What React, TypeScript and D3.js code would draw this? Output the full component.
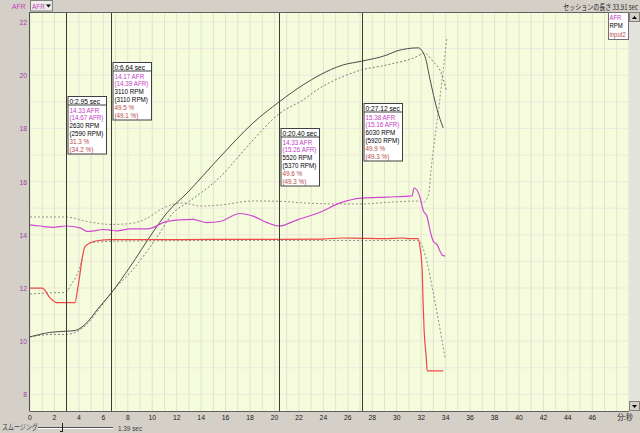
import React from "react";
import * as d3 from "d3";

type Pt = [number, number];

// run (solid) and comparison (dashed) series, time in seconds
const afrRun: Pt[] = [
  [0, 14.37], [0.82, 14.33], [1.88, 14.28], [2.95, 14.33], [4.09, 14.26], [4.66, 14.13],
  [5.07, 14.14], [5.97, 14.2], [6.64, 14.17], [7.12, 14.15], [8.18, 14.22], [9.57, 14.22],
  [10.07, 14.27], [10.88, 14.46], [12.27, 14.56], [13.34, 14.58], [14.48, 14.46], [15.55, 14.5],
  [17.18, 14.8], [18.25, 14.7], [19.39, 14.46], [20.4, 14.33], [21.85, 14.56], [23.73, 14.85],
  [25.37, 15.2], [27.12, 15.38], [29.21, 15.42], [31.26, 15.46], [31.42, 15.76], [31.91, 15.4],
  [32.16, 14.93], [32.49, 14.67], [32.73, 14.15], [32.98, 13.77], [33.31, 13.62], [33.72, 13.24],
  [33.96, 13.2],
];
const afrComp: Pt[] = [
  [0, 14.67], [1.9, 14.67], [2.95, 14.67], [4.66, 14.5], [6.64, 14.39], [8.18, 14.42],
  [9.57, 14.62], [10.88, 15.0], [12.52, 15.2], [13.91, 15.08], [15.55, 15.12], [18.25, 15.27],
  [20.4, 15.26], [22.34, 15.2], [25.12, 15.16], [27.12, 15.16], [29.2, 15.22], [31.67, 15.27],
  [32.16, 15.22], [32.6, 15.5], [32.81, 16.44], [33.5, 19.0], [34.1, 21.4],
];
const rpmRun: Pt[] = [
  [0, 2560], [0.8, 2590], [1.6, 2615], [2.95, 2630], [3.7, 2640], [4.66, 2740], [5.48, 2898],
  [6.64, 3110], [8.18, 3440], [10.07, 3880], [11.2, 4120], [12.85, 4371], [15.55, 4825],
  [18.25, 5253], [20.4, 5520], [22.34, 5732], [23.73, 5858], [25.61, 5983], [27.12, 6030],
  [29.21, 6109], [30.03, 6160], [31.75, 6198], [32.32, 6084], [32.73, 5795], [33.31, 5417],
  [33.8, 5190],
];
const rpmComp: Pt[] = [
  [0, 2560], [1.9, 2590], [2.95, 2590], [4.1, 2650], [4.9, 2760], [5.6, 2900], [6.64, 3110],
  [8.6, 3440], [10.5, 3840], [11.7, 4120], [12.85, 4245], [15.55, 4573], [18.25, 5039],
  [20.4, 5370], [22.34, 5543], [23.73, 5694], [25.5, 5830], [27.12, 5920], [29.2, 5983],
  [31.9, 6109], [32.2, 6135], [33.0, 6021], [33.6, 5895], [34.05, 5669],
];
const input2Run: Pt[] = [
  [0, 35.5], [1.0, 35.5], [1.64, 32.7], [2.2, 31.3], [2.95, 31.3], [3.68, 31.3], [3.93, 36],
  [4.5, 47.5], [5.48, 49.2], [6.64, 49.5], [10, 49.5], [15, 49.6], [20.4, 49.6], [24, 49.7],
  [25.5, 50.0], [27.12, 49.9], [29, 49.8], [30.5, 50.0], [31.0, 49.8], [31.75, 49.8],
  [31.9, 47.4], [32.08, 40.8], [32.16, 31], [32.24, 23.4], [32.41, 15.6], [32.49, 11.6],
  [33.8, 11.6],
];
const input2Comp: Pt[] = [
  [0, 33.8], [2.7, 34.2], [2.95, 34.2], [3.27, 36], [4.09, 41.6], [4.5, 47.4], [4.9, 48.6],
  [6.3, 49.0], [6.64, 49.1], [20.4, 49.3], [27.12, 49.3], [31.75, 49.3], [32.49, 42.8],
  [32.9, 35.8], [33.3, 28.3], [33.7, 20.5], [33.96, 15.3],
];

// cursor readouts
const cursorTimes = [2.95, 6.64, 20.4, 27.12];
const cursorAfr = [14.33, 14.17, 14.33, 15.38];
const cursorAfrComp = [14.67, 14.39, 15.26, 15.16];
const cursorRpm = [2630, 3110, 5520, 6030];
const cursorRpmComp = [2590, 3110, 5370, 5920];
const cursorPct = [31.3, 49.5, 49.6, 49.9];
const cursorPctComp = [34.2, 49.1, 49.3, 49.3];
const cursorBoxAnchor = [19.22, 20.5, 18.0, 18.95];

const yTicks = [8, 10, 12, 14, 16, 18, 20, 22];
const xTicks = d3.range(0, 47, 2);
const legendItems = ["AFR", "RPM", "input2"];

const FONT = "'Liberation Sans', Arial, sans-serif";
const JP = "'Noto Sans CJK JP', sans-serif";
const MAG = "#c43cc4";
const PCT = "#b84848";
const CHROME = "#d4d0c8";

const x = d3.scaleLinear().domain([0, 49]).range([30, 629]);
const y = d3.scaleLinear().domain([8, 22]).range([394.4, 22]);
const rpmY = d3.scaleLinear().domain([1500, 6500]).range([y(7.0), y(21.93)]);
const pctY = d3.scaleLinear().domain([0, 100]).range([y(7.38), y(20.38)]);

const L = 29.5, R = 629, T = 12, B = 411;

const T_ = ({ x, y, s = 1, size = 7, fill = "#000", anchor = "start", family = FONT, children }: any) => (
  <text transform={`translate(${x},${y}) scale(${s},1)`} fontSize={size} fill={fill}
    textAnchor={anchor} fontFamily={family}>{children}</text>
);

function mk(scale: d3.ScaleLinear<number, number>) {
  return d3.line<Pt>().x((d) => x(d[0])).y((d) => scale(d[1])).curve(d3.curveMonotoneX);
}

export default function App() {
  const afrLine = mk(y);
  const rpmLine = mk(rpmY);
  const pctLine = mk(pctY);

  const gridX = d3.range(0, 50, 1);
  const gridY = d3.range(8, 23, 1);

  return (
    <svg width={640} height={433} style={{ position: "absolute", left: 0, top: 0 }}>
      <rect x={0} y={0} width={640} height={433} fill={CHROME} />
      <defs>
        <clipPath id="plot"><rect x={L} y={T} width={R - L} height={B - T} /></clipPath>
      </defs>
      <rect x={L} y={T} width={R - L} height={B - T} fill="#f4fcdc" />

      {/* grid */}
      <g clipPath="url(#plot)">
        {gridX.map((t) => (
          <line key={"gx" + t} x1={x(t)} x2={x(t)} y1={T} y2={B} stroke="#e4e0d0" strokeWidth={1} />
        ))}
        {gridY.map((v) => (
          <line key={"gy" + v} x1={L} x2={R} y1={y(v)} y2={y(v)} stroke="#efe6dc" strokeWidth={1} />
        ))}
      </g>

      {/* series */}
      <g clipPath="url(#plot)" fill="none">
        <path d={afrLine(afrComp) || ""} stroke="#a08c8c" strokeWidth={1} strokeDasharray="2,2" />
        <path d={rpmLine(rpmComp) || ""} stroke="#7c7c7c" strokeWidth={1} strokeDasharray="2,2" />
        <path d={pctLine(input2Comp) || ""} stroke="#8c8c8c" strokeWidth={1} strokeDasharray="2,2" />
        <path d={rpmLine(rpmRun) || ""} stroke="#4c4c4c" strokeWidth={1} />
        <path d={pctLine(input2Run) || ""} stroke="#f04848" strokeWidth={1.2} />
        <path d={afrLine(afrRun) || ""} stroke="#d048d0" strokeWidth={1.2} />
      </g>

      {/* cursors */}
      {cursorTimes.map((t, i) => {
        const cx = Math.round(x(t)) + 0.5;
        const bx = cx + 1.5;
        const by = Math.round(y(cursorBoxAnchor[i])) + 0.5;
        const rows = [
          { s: `${cursorAfr[i].toFixed(2)} AFR`, c: MAG },
          { s: `(${cursorAfrComp[i].toFixed(2)} AFR)`, c: MAG },
          { s: `${cursorRpm[i]} RPM`, c: "#000" },
          { s: `(${cursorRpmComp[i]} RPM)`, c: "#000" },
          { s: `${cursorPct[i].toFixed(1)} %`, c: PCT },
          { s: `(${cursorPctComp[i].toFixed(1)} %)`, c: PCT },
        ];
        return (
          <g key={"c" + i}>
            <line x1={cx} x2={cx} y1={T} y2={B} stroke="#3c3c3c" strokeWidth={1} />
            <rect x={bx} y={by} width={38.5} height={57.5} fill="#fff" stroke="#404040" strokeWidth={1} />
            <line x1={bx} x2={bx + 38.5} y1={by + 8.5} y2={by + 8.5} stroke="#404040" strokeWidth={1} />
            <T_ x={bx + 1.5} y={by + 7} size={7} s={0.95}>{`0:${t.toFixed(2)} sec`}</T_>
            {rows.map((r, k) => (
              <T_ key={k} x={bx + 1.5} y={by + 16 + k * 7.95} size={7} s={0.9} fill={r.c}>{r.s}</T_>
            ))}
          </g>
        );
      })}

      {/* plot frame */}
      <line x1={L} x2={L} y1={T} y2={B} stroke="#505050" />
      <line x1={L} x2={R} y1={T + 0.5} y2={T + 0.5} stroke="#606060" />
      <line x1={L} x2={R} y1={B + 0.5} y2={B + 0.5} stroke="#606060" />

      {/* legend */}
      <rect x={608.5} y={12.5} width={20} height={27} fill="#fff" stroke="#707070" />
      {legendItems.map((s, i) => (
        <T_ key={s} x={609.5} y={19.5 + i * 8.5} size={7} s={0.85}
          fill={i === 0 ? MAG : i === 1 ? "#000" : PCT}>{s}</T_>
      ))}

      {/* scrollbar */}
      <rect x={629} y={T} width={11} height={B - T} fill="#e4e2dc" />
      <rect x={629.5} y={T + 0.5} width={10} height={9} fill={CHROME} stroke="#808080" />
      <path d={`M632,${T + 7} L634.5,${T + 4} L637,${T + 7} Z`} fill="#000" />
      <rect x={629.5} y={B - 9.5} width={10} height={9} fill={CHROME} stroke="#808080" />
      <path d={`M632,${B - 6} L634.5,${B - 3} L637,${B - 6} Z`} fill="#000" />

      {/* y axis labels */}
      {yTicks.map((v) => (
        <T_ key={"yl" + v} x={27} y={y(v) + 3} size={8} s={0.85} fill="#a040a0" anchor="end">{v}</T_>
      ))}

      {/* x axis labels */}
      {xTicks.map((t) => (
        <T_ key={"xl" + t} x={x(t)} y={420} size={8} s={0.85} fill="#202020" anchor="middle">{t}</T_>
      ))}
      <T_ x={625} y={420} size={8} s={0.85} fill="#202020" anchor="middle" family={JP}>分:秒</T_>

      {/* top bar */}
      <T_ x={12} y={9} size={8} s={0.85} fill={MAG}>AFR</T_>
      <rect x={30.5} y={0.5} width={22} height={10.5} fill="#ecebe6" stroke="#808080" />
      <T_ x={32} y={8.5} size={7.5} s={0.85} fill={MAG}>AFR</T_>
      <path d="M46,4.5 L51,4.5 L48.5,7.5 Z" fill="#000" />
      <T_ x={638} y={9.5} size={7.5} s={0.8} fill="#202020" anchor="end" family={JP}>セッションの長さ 33.91 sec</T_>

      {/* smoothing slider */}
      <T_ x={2} y={430} size={7.5} s={0.8} fill="#404040" family={JP}>スムージング</T_>
      <line x1={38} x2={113} y1={427.5} y2={427.5} stroke="#505050" />
      <line x1={38} x2={113} y1={428.5} y2={428.5} stroke="#ffffff" />
      <path d="M62.5,423 L62.5,431 M60,431.5 L63,431.5" stroke="#202020" fill="none" />
      <T_ x={118} y={430.5} size={7.5} s={0.85} fill="#404040">1.39 sec</T_>
    </svg>
  );
}
